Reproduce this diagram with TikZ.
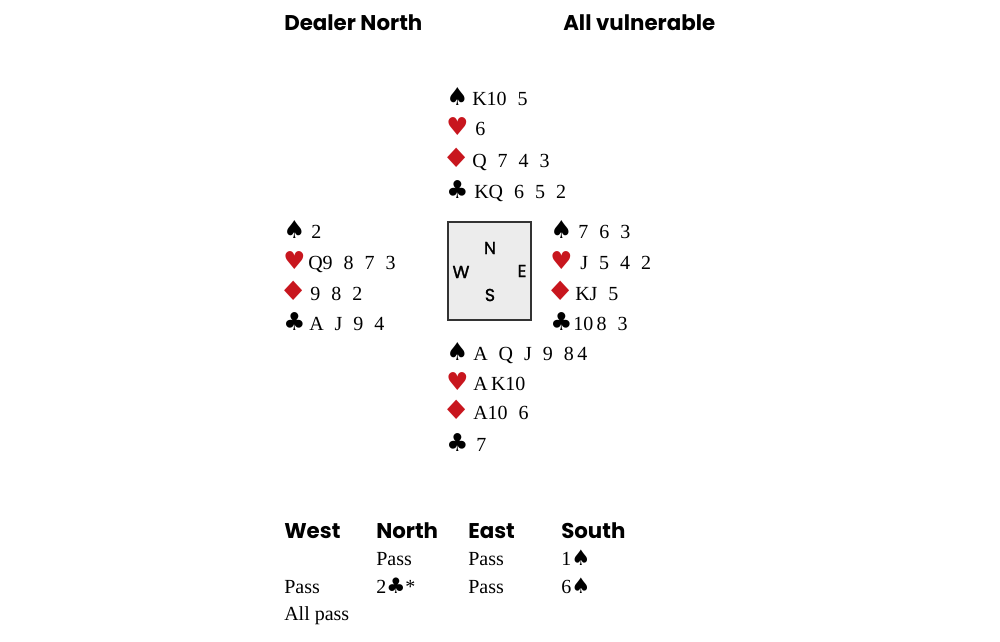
\documentclass[tikz,border=0pt]{standalone}
\usepackage{fontspec}
\setmainfont{Liberation Serif}
\newfontfamily\hdrfont{Poppins}
\newfontfamily\cmpfont[FakeBold=1.5]{Poppins}
\newfontfamily\suitfont{DejaVu Sans}
\definecolor{suitred}{HTML}{C8161E}
\definecolor{boxfill}{HTML}{ECECEC}
\definecolor{boxline}{HTML}{333333}
\newcommand\gp{\hspace{0.55em}}
\newcommand\dia{\scalebox{1.3}[1.08]{♦}}
\begin{document}
\begin{tikzpicture}[x=0.75pt,y=-0.75pt,
 hdr/.style={anchor=base west,inner sep=0,font=\hdrfont\bfseries\fontsize{16}{19}\selectfont},
 rank/.style={anchor=base west,inner sep=0,font=\fontsize{15}{18}\selectfont},
 bid/.style={anchor=base west,inner sep=0,font=\fontsize{15}{18}\selectfont},
 bsuit/.style={anchor=base west,inner sep=0,font=\suitfont\fontsize{18.5}{20}\selectfont},
 rsuit/.style={bsuit,text=suitred},
 compass/.style={inner sep=0,font=\cmpfont\fontsize{13}{15}\selectfont},
]
\useasboundingbox (0,0) rectangle (1000,642);
% headings
\node[hdr] (dealer) at (284,31) {Dealer North};
\node[hdr] (vul) at (563,31) {All vulnerable};
% North
\node[bsuit] (ns) at (446,105) {♠}; \node[rank] (nsr) at (472,105) {K10\gp5};
\node[rsuit] (nh) at (446,135) {♥}; \node[rank] (nhr) at (475,135) {6};
\node[rsuit] (nd) at (441.5,167) {\dia}; \node[rank] (ndr) at (472,167) {Q\gp7\gp4\gp3};
\node[bsuit] (nc) at (446,198) {♣}; \node[rank] (ncr) at (474,198) {KQ\gp6\gp5\gp2};
% West
\node[bsuit] (ws) at (283,238) {♠}; \node[rank] (wsr) at (311,238) {2};
\node[rsuit] (wh) at (283,269) {♥}; \node[rank] (whr) at (308,269) {Q9\gp8\gp7\gp3};
\node[rsuit] (wd) at (278.5,300) {\dia}; \node[rank] (wdr) at (310,300) {9\gp8\gp2};
\node[bsuit] (wc) at (283,330) {♣}; \node[rank] (wcr) at (309,330) {A\gp J\gp9\gp4};
% East
\node[bsuit] (es) at (550,238) {♠}; \node[rank] (esr) at (578,238) {7\gp6\gp3};
\node[rsuit] (eh) at (550,269) {♥}; \node[rank] (ehr) at (580,269) {J\gp5\gp4\gp2};
\node[rsuit] (ed) at (545.5,300) {\dia}; \node[rank] (edr) at (575,300) {KJ\gp5};
\node[bsuit] (ec) at (550,330) {♣}; \node[rank] (ecr) at (573,330) {10\,8\gp3};
% South
\node[bsuit] (ss) at (446,360) {♠}; \node[rank] (ssr) at (473,360) {A\gp Q\gp J\gp9\gp8\,4};
\node[rsuit] (sh) at (446,390) {♥}; \node[rank] (shr) at (473,390) {A\,K10};
\node[rsuit] (sd) at (441.5,419) {\dia}; \node[rank] (sdr) at (473,419) {A10\gp6};
\node[bsuit] (sc) at (446,451) {♣}; \node[rank] (scr) at (476,451) {7};
% compass box
\node[draw=boxline,fill=boxfill,line width=1.5pt,minimum width=62pt,minimum height=73pt,inner sep=0] (box) at (489.5,271) {};
\node[compass] (cn) at (490,248) {N};
\node[compass] (cw) at (461,272) {W};
\node[compass] (ce) at (522,271) {E};
\node[compass] (cs) at (490,295) {S};
% bidding
\node[hdr] (bw) at (284,538) {West};
\node[hdr] (bn) at (376,538) {North};
\node[hdr] (be) at (468,538) {East};
\node[hdr] (bs) at (561,538) {South};
\node[bid] (b12) at (376,565) {Pass};
\node[bid] (b13) at (468,565) {Pass};
\node[bid] (b14) at (561,565) {1{\suitfont\fontsize{16}{18}\selectfont ♠}};
\node[bid] (b21) at (284,593) {Pass};
\node[bid] (b22) at (376,593) {2{\suitfont\fontsize{16}{18}\selectfont ♣}*};
\node[bid] (b23) at (468,593) {Pass};
\node[bid] (b24) at (561,593) {6{\suitfont\fontsize{16}{18}\selectfont ♠}};
\node[bid] (b31) at (284,620) {All pass};
\end{tikzpicture}
\end{document}
